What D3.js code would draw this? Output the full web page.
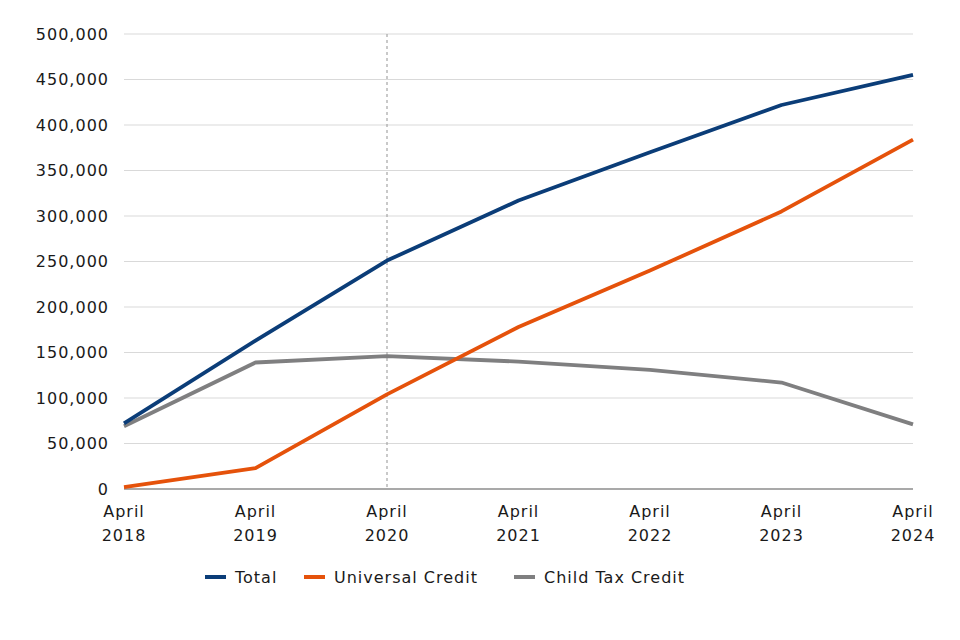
<!DOCTYPE html>
<html><head><meta charset="utf-8">
<script src="https://cdn.jsdelivr.net/npm/d3@7"></script>
<style>body{margin:0;background:#fff;} text{font-family:"DejaVu Sans",sans-serif;letter-spacing:1px;}</style>
</head><body>
<svg id="c" width="960" height="640"></svg>
<script>
const years = ["2018","2019","2020","2021","2022","2023","2024"];
const totalVals = [72000, 163000, 251000, 317000, 370000, 422000, 455000];
const ucVals = [2000, 23000, 104000, 178000, 240000, 305000, 384000];
const ctcVals = [69000, 139000, 146000, 140000, 131000, 117000, 71000];
const yTicks = [0,50000,100000,150000,200000,250000,300000,350000,400000,450000,500000];
const seriesNames = ["Total","Universal Credit","Child Tax Credit"];
const seriesColors = ["#0b3d78","#e5520b","#7f7f80"];
const markerYear = "2020";

const svg = d3.select("#c");
const x = d3.scalePoint().domain(years).range([124, 913]);
const y = d3.scaleLinear().domain([0, 500000]).range([489, 34]);
const fmt = d3.format(",");

svg.append("g").selectAll("line").data(yTicks.filter(d=>d>0)).join("line")
  .attr("x1",124).attr("x2",913).attr("y1",d=>y(d)).attr("y2",d=>y(d))
  .attr("stroke","#d9d9d9").attr("stroke-width",1);
svg.append("g").selectAll("text").data(yTicks).join("text")
  .attr("x",109).attr("y",d=>y(d)).attr("dy","0.36em").attr("text-anchor","end")
  .attr("font-size",16).attr("fill","#1a1a1a").text(d=>fmt(d));
svg.append("line").attr("x1",x(markerYear)).attr("x2",x(markerYear))
  .attr("y1",y(500000)).attr("y2",y(0))
  .attr("stroke","#a6a6a6").attr("stroke-width",1.2).attr("stroke-dasharray","3,3");
svg.append("line").attr("x1",124).attr("x2",913).attr("y1",y(0)).attr("y2",y(0))
  .attr("stroke","#8c8c8c").attr("stroke-width",1.5);
const xl = svg.append("g").selectAll("text").data(years).join("text")
  .attr("x",d=>x(d)).attr("text-anchor","middle").attr("font-size",16).attr("fill","#1a1a1a");
xl.append("tspan").attr("x",d=>x(d)).attr("y",517).text("April");
xl.append("tspan").attr("x",d=>x(d)).attr("y",541).text(d=>d);

const data = [totalVals, ucVals, ctcVals];
const line = d3.line().x((d,i)=>x(years[i])).y(d=>y(d));
[2,1,0].forEach(k=>{
  svg.append("path").datum(data[k]).attr("d",line).attr("fill","none")
    .attr("stroke",seriesColors[k]).attr("stroke-width",3.8).attr("stroke-linejoin","round");
});

const legX = [205, 304, 514];
const lg = svg.append("g");
seriesNames.forEach((n,i)=>{
  lg.append("line").attr("x1",legX[i]).attr("x2",legX[i]+21).attr("y1",577).attr("y2",577)
    .attr("stroke",seriesColors[i]).attr("stroke-width",4);
  lg.append("text").attr("x",legX[i]+30).attr("y",577).attr("dy","0.36em")
    .attr("font-size",16).attr("fill","#1a1a1a").text(n);
});
</script>
</body></html>
